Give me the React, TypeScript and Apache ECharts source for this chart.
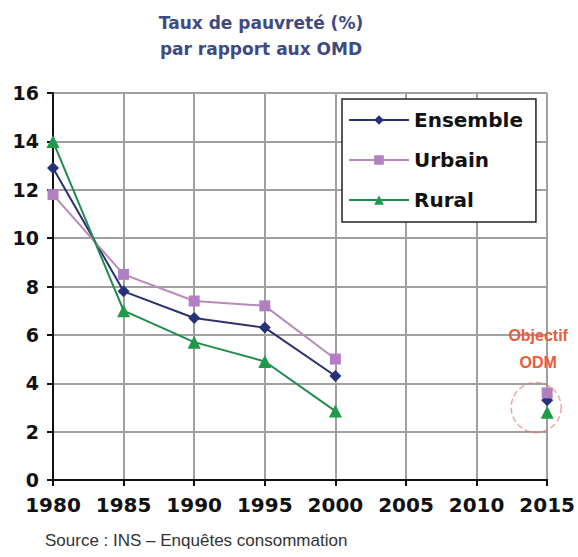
import React, { useEffect, useRef } from "react";
import * as echarts from "echarts";

const years = ["1980", "1985", "1990", "1995", "2000", "2005", "2010", "2015"];
const ensemble = [12.9, 7.8, 6.7, 6.3, 4.3, null, null, 3.3];
const urbain = [11.8, 8.5, 7.4, 7.2, 5.0, null, null, 3.6];
const rural = [14.0, 7.0, 5.7, 4.9, 2.85, null, null, 2.8];
const yTicks = { min: 0, max: 16, interval: 2 };
const titleLines = ["Taux de pauvreté (%)", "par rapport aux OMD"];
const sourceText = "Source : INS – Enquêtes consommation";
const goalLabel = ["Objectif", "ODM"];
const goalYear = "2015";
const goalCenter = 3.0;

export default function App() {
  const ref = useRef<HTMLDivElement>(null);
  useEffect(() => {
    if (!ref.current) return;
    const chart = echarts.init(ref.current, null, { renderer: "svg" });
    const font = "'DejaVu Sans', sans-serif";
    const font2 = "'Liberation Sans', Arial, sans-serif";
    const mk = (name: string, data: any[], color: string, lineColor: string, symbol: string, size: number) => ({
      name,
      type: "line",
      data,
      connectNulls: false,
      symbol,
      symbolSize: size,
      itemStyle: { color },
      lineStyle: { color: lineColor, width: 2 },
      z: 3,
    });
    chart.setOption({
      animation: false,
      backgroundColor: "#ffffff",
      title: {
        text: titleLines.join("\n"),
        left: 256,
        top: 5,
        textAlign: "center",
        textStyle: { fontFamily: font, fontWeight: "bold", fontSize: 17, color: "#3e4a80", lineHeight: 26 },
      },
      legend: {
        orient: "vertical",
        left: 342,
        top: 99,
        backgroundColor: "#ffffff",
        borderColor: "#222",
        borderWidth: 1.5,
        borderRadius: 0,
        padding: [11, 13, 12, 6],
        itemGap: 20,
        itemWidth: 60,
        itemHeight: 12,
        textStyle: { fontFamily: font, fontWeight: "bold", fontSize: 20, color: "#111", lineHeight: 20 },
        data: ["Ensemble", "Urbain", "Rural"],
      },
      grid: { left: 53, right: 28, top: 93, bottom: 77 },
      xAxis: {
        type: "category",
        data: years,
        boundaryGap: false,
        axisLine: { lineStyle: { color: "#111", width: 2 } },
        axisTick: { show: true, interval: 0, length: 6, lineStyle: { color: "#111", width: 2 } },
        axisLabel: { interval: 0, fontFamily: font, fontWeight: "bold", fontSize: 20, color: "#111", margin: 15 },
        splitLine: { show: true, interval: 0, lineStyle: { color: "#a0a0a0", width: 2 } },
      },
      yAxis: {
        type: "value",
        ...yTicks,
        axisLine: { show: true, lineStyle: { color: "#111", width: 2 } },
        axisTick: { show: true, length: 6, lineStyle: { color: "#111", width: 2 } },
        axisLabel: { fontFamily: font, fontWeight: "bold", fontSize: 19, color: "#111", margin: 14 },
        splitLine: { show: true, lineStyle: { color: "#a0a0a0", width: 2 } },
      },
      series: [
        mk("Ensemble", ensemble, "#27307a", "#2b3170", "diamond", 12),
        mk("Urbain", urbain, "#b27fc2", "#b889bd", "rect", 11),
        mk("Rural", rural, "#1e9a4a", "#1f8b4e", "triangle", 13),
      ],
    });
    const [cx, cy] = chart.convertToPixel({ gridIndex: 0 }, [goalYear, goalCenter]) as number[];
    chart.setOption({
      graphic: [
        {
          type: "circle",
          shape: { cx: cx - 11, cy, r: 25 },
          style: { fill: "none", stroke: "rgba(225,110,100,0.6)", lineWidth: 1.5, lineDash: [6, 3] },
          z: 10,
        },
        {
          type: "text",
          x: cx - 9,
          y: cy - 58,
          style: {
            text: goalLabel.join("\n"),
            fill: "#ea5a3c",
            font: `bold 16px ${font2}`,
            align: "center",
            verticalAlign: "middle",
            lineHeight: 27,
          },
          z: 10,
        },
        {
          type: "text",
          x: 45,
          y: 540,
          style: { text: sourceText, fill: "#333", font: `17px ${font2}`, verticalAlign: "middle" },
        },
      ],
    });
    return () => chart.dispose();
  }, []);
  return <div ref={ref} style={{ position: "absolute", left: 0, top: 0, width: 578, height: 557 }} />;
}
